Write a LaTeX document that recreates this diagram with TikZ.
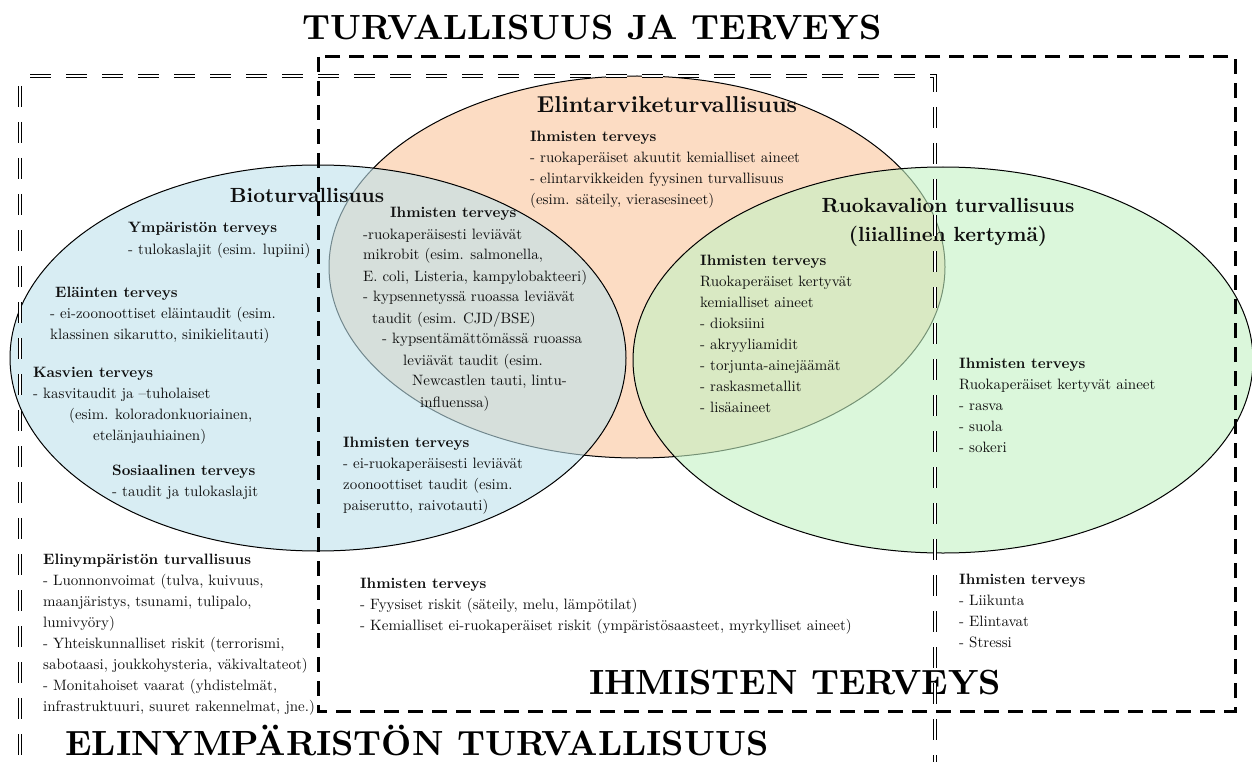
\documentclass[tikz,border=0pt]{standalone}
\usepackage{fontspec}
\setmainfont{lmroman10-regular.otf}[BoldFont=lmroman10-bold.otf, ItalicFont=lmroman10-italic.otf]
\definecolor{bluefill}{RGB}{190,226,236}
\definecolor{orfill}{RGB}{250,198,155}
\definecolor{grfill}{RGB}{195,243,195}
\definecolor{txt}{RGB}{15,15,15}
\newcommand{\blk}[1]{\begin{tabular}[t]{@{}l@{}}#1\end{tabular}}
\newcommand{\cblk}[1]{\begin{tabular}[t]{@{}c@{}}#1\end{tabular}}
\tikzset{
  body/.style={anchor=base west, inner sep=0pt, font=\fontsize{15}{21}\selectfont, text=txt},
  head/.style={anchor=base, inner sep=0pt, font=\fontsize{20.5}{29}\selectfont\bfseries, text=txt},
  big/.style={anchor=base, inner sep=0pt, font=\fontsize{35}{40}\selectfont\bfseries, text=black},
  setfill/.style={fill=#1, fill opacity=0.6, draw=black, draw opacity=1, line width=1pt},
  thickdash/.style={draw=black, line width=3pt, dash pattern=on 15pt off 9pt},
  dbldash/.style={draw=black, double=white, double distance=1.8pt, line width=0.9pt, dash pattern=on 21pt off 15pt}
}
\begin{document}
\begin{tikzpicture}[x=1pt,y=-1pt]
\useasboundingbox (0,0) rectangle (1252,762);
\clip (0,0) rectangle (1252,762);
\fill[white] (0,0) rectangle (1252,762);

% ellipses
\path[setfill=orfill] (637,267) ellipse [x radius=308pt, y radius=191pt];
\path[setfill=bluefill] (318,358) ellipse [x radius=308pt, y radius=193pt];
\path[setfill=grfill] (943,360) ellipse [x radius=310pt, y radius=193pt];

% headings
\node[head] (hbio) at (307,202) {Bioturvallisuus};
\node[head, font=\fontsize{23}{29}\selectfont\bfseries] (helin) at (667,113) {Elintarviketurvallisuus};
\node[head] (hruo) at (948,212) {\cblk{Ruokavalion turvallisuus\\(liiallinen kertymä)}};

% blue
\node[body] (bymp) at (128,233) {\blk{\textbf{Ympäristön terveys}\\- tulokaslajit (esim. lupiini)}};
\node[body] (bela) at (50,297) {\blk{\hspace*{5pt}\textbf{Eläinten terveys}\\- ei-zoonoottiset eläintaudit (esim.\\klassinen sikarutto, sinikielitauti)}};
\node[body] (bkas) at (33,377) {\blk{\textbf{Kasvien terveys}\\- kasvitaudit ja –tuholaiset\\\hspace*{36pt}(esim. koloradonkuoriainen,\\\hspace*{60pt}etelänjauhiainen)}};
\node[body] (bsos) at (112,475) {\blk{\textbf{Sosiaalinen terveys}\\- taudit ja tulokaslajit}};
\node[body] (bihm) at (343,447) {\blk{\textbf{Ihmisten terveys}\\- ei-ruokaperäisesti leviävät\\zoonoottiset taudit (esim.\\paiserutto, raivotauti)}};

% blue and orange
\node[body] (bo) at (363,218) {\blk{\hspace*{27pt}\textbf{Ihmisten terveys}\\-ruokaperäisesti leviävät\\mikrobit (esim. salmonella,\\E. coli, Listeria, kampylobakteeri)\\- kypsennetyssä ruoassa leviävät\\\hspace*{9pt}taudit (esim. CJD/BSE)\\\hspace*{19pt}- kypsentämättömässä ruoassa\\\hspace*{40pt}leviävät taudit (esim.\\\hspace*{49pt}Newcastlen tauti, lintu-\\\hspace*{57pt}influenssa)}};

% orange
\node[body] (oih) at (530,142) {\blk{\textbf{Ihmisten terveys}\\- ruokaperäiset akuutit kemialliset aineet\\- elintarvikkeiden fyysinen turvallisuus\\(esim. säteily, vierasesineet)}};

% orange and green
\node[body] (og) at (700,265) {\blk{\textbf{Ihmisten terveys}\\Ruokaperäiset kertyvät\\kemialliset aineet\\- dioksiini\\- akryyliamidit\\- torjunta-ainejäämät\\- raskasmetallit\\- lisäaineet}};

% green
\node[body] (gih) at (959,368) {\blk{\textbf{Ihmisten terveys}\\Ruokaperäiset kertyvät aineet\\- rasva\\- suola\\- sokeri}};

% outside
\node[body] (rih) at (959,584) {\blk{\textbf{Ihmisten terveys}\\- Liikunta\\- Elintavat\\- Stressi}};
\node[body] (mih) at (360,588) {\blk{\textbf{Ihmisten terveys}\\- Fyysiset riskit (säteily, melu, lämpötilat)\\- Kemialliset ei-ruokaperäiset riskit (ympäristösaasteet, myrkylliset aineet)}};
\node[body] (lel) at (43,564) {\blk{\textbf{Elinympäristön turvallisuus}\\- Luonnonvoimat (tulva, kuivuus,\\maanjäristys, tsunami, tulipalo,\\lumivyöry)\\- Yhteiskunnalliset riskit (terrorismi,\\sabotaasi, joukkohysteria, väkivaltateot)\\- Monitahoiset vaarat (yhdistelmät,\\infrastruktuuri, suuret rakennelmat, jne.)}};

% big titles
\node[big] (ttop) at (592,40) {TURVALLISUUS JA TERVEYS};
\node[big] (tihm) at (795,694) {IHMISTEN TERVEYS};
\node[big] (telin) at (417,755) {ELINYMPÄRISTÖN TURVALLISUUS};

% dashed frames
\draw[dbldash] (30,76) -- (935,76) -- (935,770);
\draw[dbldash] (20,86) -- (20,770);
\draw[thickdash] (318,57) rectangle (1235,711);
\end{tikzpicture}
\end{document}
